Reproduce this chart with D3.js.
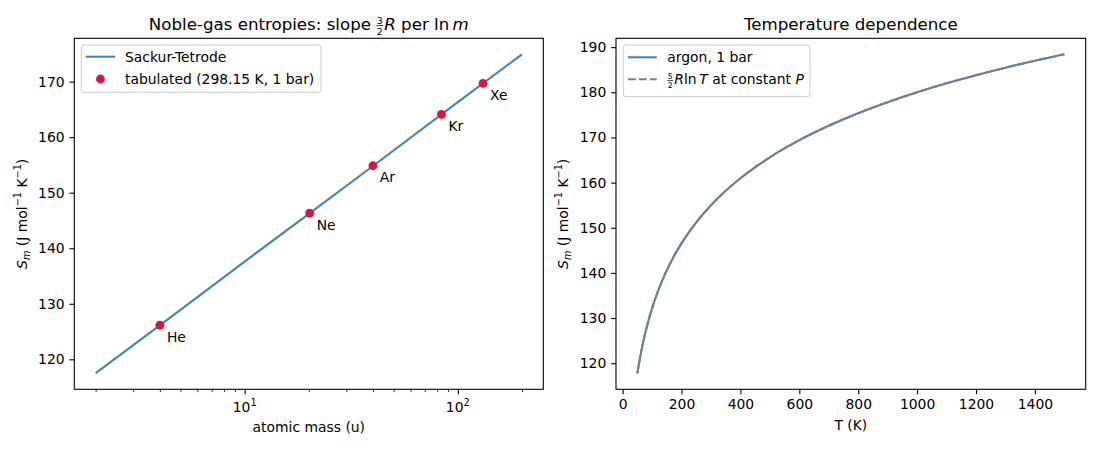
<!DOCTYPE html>
<html>
<head>
<meta charset="utf-8">
<script src="https://d3js.org/d3.v7.min.js"></script>
<style>
    body { margin: 0; background: #fff; }
    svg { font-family: "DejaVu Sans", sans-serif; }
    text { white-space: pre; }
</style>
</head>
<body>
<div id="chart"></div>
<script>
// left panel: Sackur-Tetrode line and tabulated noble gases
const massGrid = [2, 4, 10, 20, 40, 100, 200]
const sackurS = [117.5, 126.1, 137.6, 146.2, 154.8, 166.3, 174.9]
const gasNames = ['He', 'Ne', 'Ar', 'Kr', 'Xe']
const gasMass = [4.0026, 20.18, 39.95, 83.80, 131.29]
const gasS = [126.15, 146.33, 154.85, 164.09, 169.68]
const yTicksLeft = [120, 130, 140, 150, 160, 170]
const xMajorLeft = [10, 100]
const xMinorLeft = [2, 3, 4, 5, 6, 7, 8, 9, 20, 30, 40, 50, 60, 70, 80, 90, 200]

// right panel: argon entropy vs temperature
const tempK = [50, 55, 60, 65, 70, 80, 90, 100, 125, 150, 175, 200, 250, 300, 350, 400, 500, 600, 700, 800, 900, 1000, 1100, 1200, 1300, 1400, 1500]
const argonS = [117.75, 119.72, 121.52, 123.19, 124.73, 127.50, 129.95, 132.14, 136.78, 140.57, 143.78, 146.55, 151.19, 154.98, 158.18, 160.96, 165.60, 169.39, 172.59, 175.37, 177.81, 180.00, 181.99, 183.79, 185.46, 187.00, 188.43]
const lnTS = [117.75, 119.72, 121.52, 123.19, 124.73, 127.50, 129.95, 132.14, 136.78, 140.57, 143.78, 146.55, 151.19, 154.98, 158.18, 160.96, 165.60, 169.39, 172.59, 175.37, 177.81, 180.00, 181.99, 183.79, 185.46, 187.00, 188.43]
const xTicksRight = [0, 200, 400, 600, 800, 1000, 1200, 1400]
const yTicksRight = [120, 130, 140, 150, 160, 170, 180, 190]

const w = 1100
const h = 450
const fs = 13.9
const blue = '#4682b4'
const red = '#dc143c'

const svg = d3.select('#chart').append('svg')
    .attr('width', w)
    .attr('height', h)

// draws mathtext-ish pieces one after another: plain, italic, sup, sub, fractions
function rich(parent, x, y, parts, size, anchor) {
    const g = parent.append('g').attr('font-size', size)
    let cx = 0
    parts.forEach(p => {
        if (typeof p === 'string') p = {t: p}
        if (p.frac) {
            const fz = size * 0.56
            const num = g.append('text').attr('font-size', fz).attr('y', -size * 0.36).text(p.frac[0])
            const den = g.append('text').attr('font-size', fz).attr('y', size * 0.29).text(p.frac[1])
            const fw = Math.max(num.node().getComputedTextLength(), den.node().getComputedTextLength()) + 1
            num.attr('x', cx + fw / 2).attr('text-anchor', 'middle')
            den.attr('x', cx + fw / 2).attr('text-anchor', 'middle')
            g.append('line')
                .attr('x1', cx).attr('x2', cx + fw)
                .attr('y1', -size * 0.27).attr('y2', -size * 0.27)
                .attr('stroke', 'black').attr('stroke-width', 0.7)
            cx += fw + 1
            return
        }
        let fz = size
        let dy = 0
        if (p.sup) { fz = size * 0.7; dy = -size * 0.42 }
        if (p.sub) { fz = size * 0.7; dy = size * 0.2 }
        const t = g.append('text')
            .attr('x', cx)
            .attr('y', dy)
            .attr('font-size', fz)
            .style('font-style', p.it ? 'italic' : 'normal')
            .text(p.t)
        cx += t.node().getComputedTextLength()
    })
    const shift = anchor === 'middle' ? -cx / 2 : anchor === 'end' ? -cx : 0
    g.attr('transform', 'translate(' + (x + shift) + ',' + y + ')')
    return g
}

function frame(x0, x1, y0, y1) {
    svg.append('rect')
        .attr('x', x0).attr('y', y0)
        .attr('width', x1 - x0).attr('height', y1 - y0)
        .attr('fill', 'none')
        .attr('stroke', 'black')
        .attr('stroke-width', 1.1)
}

function styleAxis(g) {
    g.select('.domain').remove()
    g.attr('font-family', null).attr('font-size', fs)
    g.selectAll('line').attr('stroke', 'black').attr('stroke-width', 1.1)
    g.selectAll('text').attr('fill', 'black')
}

const ylabelParts = [{t: 'S', it: true}, {t: 'm', it: true, sub: true}, ' (J mol', {t: '\u22121', sup: true}, ' K', {t: '\u22121', sup: true}, ')']

// ---------- left panel ----------
const L = {x0: 74.3, x1: 543.3, y0: 38.3, y1: 389.3}
const xL = d3.scaleLog().domain([1.588, 251.8]).range([L.x0, L.x1])
const yL = d3.scaleLinear().domain([114.6, 177.8]).range([L.y1, L.y0])

svg.append('g')
    .attr('transform', 'translate(0,' + L.y1 + ')')
    .call(d3.axisBottom(xL).tickValues(xMinorLeft).tickSize(2.8).tickFormat(''))
    .call(styleAxis)
    .selectAll('line').attr('stroke-width', 0.8)

svg.append('g')
    .attr('transform', 'translate(0,' + L.y1 + ')')
    .call(d3.axisBottom(xL).tickValues(xMajorLeft).tickSize(4.86).tickFormat(''))
    .call(styleAxis)

xMajorLeft.forEach((d, i) => {
    rich(svg, xL(d), L.y1 + 23, ['10', {t: String(i + 1), sup: true}], fs, 'middle')
})

svg.append('g')
    .attr('transform', 'translate(' + L.x0 + ',0)')
    .call(d3.axisLeft(yL).tickValues(yTicksLeft).tickSize(4.86).tickPadding(4.86).tickFormat(d3.format('d')))
    .call(styleAxis)

svg.append('path')
    .datum(massGrid.map((m, i) => [m, sackurS[i]]))
    .attr('fill', 'none')
    .attr('stroke', blue)
    .attr('stroke-width', 2.08)
    .attr('d', d3.line().x(d => xL(d[0])).y(d => yL(d[1])))

svg.selectAll('.gas')
    .data(gasNames)
    .enter()
    .append('circle')
    .attr('class', 'gas')
    .attr('cx', (d, i) => xL(gasMass[i]))
    .attr('cy', (d, i) => yL(gasS[i]))
    .attr('r', 4.4)
    .attr('fill', red)

svg.selectAll('.gaslabel')
    .data(gasNames)
    .enter()
    .append('text')
    .attr('class', 'gaslabel')
    .attr('x', (d, i) => xL(gasMass[i]) + 7)
    .attr('y', (d, i) => yL(gasS[i]) + 16.5)
    .attr('font-size', fs)
    .text(d => d)

frame(L.x0, L.x1, L.y0, L.y1)

rich(svg, (L.x0 + L.x1) / 2, 30, ['Noble-gas entropies: slope ', {frac: ['3', '2']}, {t: 'R', it: true}, ' per ', 'ln', '\u2009', {t: 'm', it: true}], 16.67, 'middle')
rich(svg, (L.x0 + L.x1) / 2, 432, ['atomic mass (u)'], fs, 'middle')
rich(svg.append('g').attr('transform', 'translate(27,' + ((L.y0 + L.y1) / 2) + ') rotate(-90)'), 0, 0, ylabelParts, fs, 'middle')

// legend
const legL = svg.append('g')
legL.append('rect')
    .attr('x', 81.3).attr('y', 45)
    .attr('width', 239.7).attr('height', 47.3)
    .attr('rx', 2.8)
    .attr('fill', 'white').attr('fill-opacity', 0.8)
    .attr('stroke', '#cccccc')
legL.append('line')
    .attr('x1', 85.7).attr('x2', 115).attr('y1', 56.7).attr('y2', 56.7)
    .attr('stroke', blue).attr('stroke-width', 2.08)
legL.append('circle')
    .attr('cx', 100.4).attr('cy', 79).attr('r', 4.4).attr('fill', red)
legL.append('text').attr('x', 125).attr('y', 61.7).attr('font-size', fs).text('Sackur-Tetrode')
legL.append('text').attr('x', 125).attr('y', 84).attr('font-size', fs).text('tabulated (298.15 K, 1 bar)')

// ---------- right panel ----------
const R = {x0: 616, x1: 1085.7, y0: 38.3, y1: 389.3}
const xR = d3.scaleLinear().domain([-22.5, 1572.5]).range([R.x0, R.x1])
const yR = d3.scaleLinear().domain([114.22, 191.96]).range([R.y1, R.y0])

svg.append('g')
    .attr('transform', 'translate(0,' + R.y1 + ')')
    .call(d3.axisBottom(xR).tickValues(xTicksRight).tickSize(4.86).tickPadding(4.86).tickFormat(d3.format('d')))
    .call(styleAxis)

svg.append('g')
    .attr('transform', 'translate(' + R.x0 + ',0)')
    .call(d3.axisLeft(yR).tickValues(yTicksRight).tickSize(4.86).tickPadding(4.86).tickFormat(d3.format('d')))
    .call(styleAxis)

const curve = d3.line().curve(d3.curveMonotoneX).x(d => xR(d[0])).y(d => yR(d[1]))

svg.append('path')
    .datum(tempK.map((t, i) => [t, argonS[i]]))
    .attr('fill', 'none')
    .attr('stroke', blue)
    .attr('stroke-width', 2.08)
    .attr('d', curve)

svg.append('path')
    .datum(tempK.map((t, i) => [t, lnTS[i]]))
    .attr('fill', 'none')
    .attr('stroke', '#808080')
    .attr('stroke-width', 2.08)
    .attr('stroke-dasharray', '7.7,3.3')
    .attr('d', curve)

frame(R.x0, R.x1, R.y0, R.y1)

rich(svg, (R.x0 + R.x1) / 2, 30, ['Temperature dependence'], 16.67, 'middle')
rich(svg, (R.x0 + R.x1) / 2, 430, ['T (K)'], fs, 'middle')
rich(svg.append('g').attr('transform', 'translate(568,' + ((R.y0 + R.y1) / 2) + ') rotate(-90)'), 0, 0, ylabelParts, fs, 'middle')

const legR = svg.append('g')
legR.append('rect')
    .attr('x', 623.3).attr('y', 45)
    .attr('width', 186.7).attr('height', 51.7)
    .attr('rx', 2.8)
    .attr('fill', 'white').attr('fill-opacity', 0.8)
    .attr('stroke', '#cccccc')
legR.append('line')
    .attr('x1', 628).attr('x2', 656.7).attr('y1', 57.3).attr('y2', 57.3)
    .attr('stroke', blue).attr('stroke-width', 2.08)
legR.append('line')
    .attr('x1', 628).attr('x2', 656.7).attr('y1', 79.3).attr('y2', 79.3)
    .attr('stroke', '#808080').attr('stroke-width', 2.08)
    .attr('stroke-dasharray', '7.7,3.3')
legR.append('text').attr('x', 667.3).attr('y', 62.3).attr('font-size', fs).text('argon, 1 bar')
rich(legR, 667.3, 84.3, [{frac: ['5', '2']}, {t: 'R', it: true}, 'ln', '\u2009', {t: 'T', it: true}, ' at constant ', {t: 'P', it: true}], fs, 'start')
</script>
</body>
</html>
